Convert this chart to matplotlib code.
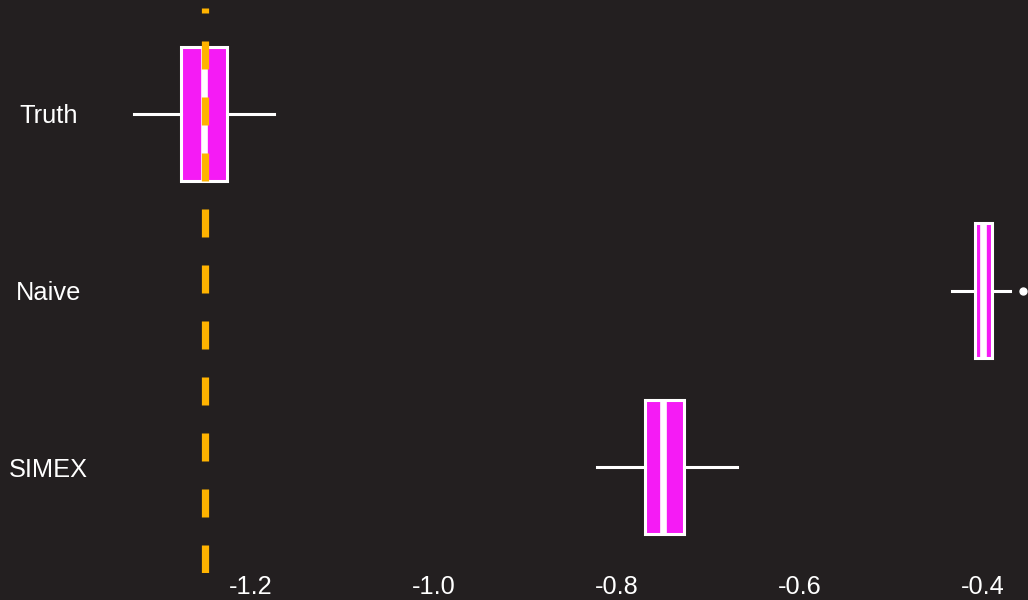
import matplotlib
matplotlib.use("Agg")
import matplotlib.pyplot as plt

plt.rcParams['font.family'] = ['Liberation Sans', 'DejaVu Sans']

# estimator summaries (top to bottom)
methods = ['Truth', 'Naive', 'SIMEX']
whisk_lo = [-1.328, -0.434, -0.822]
q1 = [-1.276, -0.408, -0.769]
median = [-1.251, -0.400, -0.749]
q3 = [-1.226, -0.390, -0.726]
whisk_hi = [-1.175, -0.370, -0.669]
outliers = [[], [-0.3555], []]
true_value = -1.25

bg = '#231F20'
fig = plt.figure(figsize=(10.28, 6.0), dpi=100, facecolor=bg)
ax = fig.add_axes([90 / 1028, 27 / 600, 938 / 1028, 565 / 600], facecolor=bg)

stats = []
for i, name in enumerate(methods):
    stats.append(dict(label=name, whislo=whisk_lo[i], q1=q1[i], med=median[i],
                      q3=q3[i], whishi=whisk_hi[i], fliers=outliers[i]))

ax.bxp(stats, positions=[1, 2, 3], widths=0.76, orientation='horizontal',
       patch_artist=True, showcaps=False,
       boxprops=dict(facecolor='#F51BF5', edgecolor='white', linewidth=2.2),
       medianprops=dict(color='white', linewidth=4.8, solid_capstyle='butt'),
       whiskerprops=dict(color='white', linewidth=2.2),
       flierprops=dict(marker='o', markerfacecolor='white', markeredgecolor='white',
                       markersize=5))

# true parameter value, dashed from the bottom up
ax.axvline(true_value, color='#FFB300', lw=5.2, dashes=(3.877, 3.877), zorder=5)

ax.set_xlim(-1.376, -0.3504)
ax.set_ylim(3.6, 0.4)
ax.set_xticks([-1.2, -1.0, -0.8, -0.6, -0.4])
ax.set_xticklabels(['-1.2', '-1.0', '-0.8', '-0.6', '-0.4'])
ax.set_yticks([1, 2, 3])
ax.set_yticklabels(methods)
ax.tick_params(axis='x', length=0, pad=1.5, labelsize=18.3, labelcolor='white')
ax.tick_params(axis='y', length=0, pad=30, labelsize=18.3, labelcolor='white')
for lab in ax.get_yticklabels():
    lab.set_horizontalalignment('center')
for s in ax.spines.values():
    s.set_visible(False)

fig.savefig('out.png', dpi=100, facecolor=bg)
